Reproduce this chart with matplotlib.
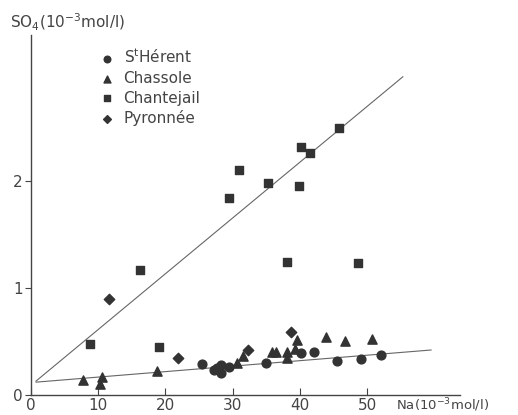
import matplotlib
matplotlib.use("Agg")
import matplotlib.pyplot as plt
import numpy as np

# Na (10^-3 mol/l) vs SO4 (10^-3 mol/l)
herent_na = [25.4, 27.2, 27.7, 28.2, 28.3, 29.4, 35.0, 40.1, 42.1, 45.5, 49.1, 52.1]
herent_so4 = [0.29, 0.23, 0.25, 0.28, 0.21, 0.26, 0.30, 0.39, 0.40, 0.32, 0.34, 0.37]

chassole_na = [7.7, 10.5, 10.2, 18.8, 30.7, 31.5, 35.9, 36.5, 38.0, 38.1, 39.3, 39.6, 43.8, 46.7, 50.7]
chassole_so4 = [0.14, 0.17, 0.10, 0.22, 0.30, 0.36, 0.40, 0.40, 0.40, 0.35, 0.43, 0.51, 0.54, 0.50, 0.52]

chantejail_na = [8.75, 16.2, 19.0, 29.4, 31.0, 35.2, 38.0, 39.9, 40.2, 41.5, 45.8, 48.7]
chantejail_so4 = [0.48, 1.17, 0.45, 1.84, 2.10, 1.98, 1.24, 1.95, 2.31, 2.26, 2.49, 1.23]

pyronnee_na = [11.6, 21.8, 32.3, 38.7]
pyronnee_so4 = [0.90, 0.35, 0.42, 0.59]

# the two fitted lines (end points)
upper_x = [0.75, 55.3]
upper_y = [0.13, 2.97]
lower_x = [0.75, 59.5]
lower_y = [0.12, 0.42]

xticks = [0, 10, 20, 30, 40, 50]
yticks = [0, 1, 2]

dark = '#333333'

fig = plt.figure(figsize=(5.18, 4.15), dpi=100)
ax = fig.add_axes([31/518, 20/415, 429/518, 360/415])

ax.plot(upper_x, upper_y, color='#666666', lw=0.8)
ax.plot(lower_x, lower_y, color='#666666', lw=0.8)

ax.scatter(herent_na, herent_so4, marker='o', s=40, color=dark, label='S$^{\\mathrm{t}}$Hérent', zorder=3)
ax.scatter(chassole_na, chassole_so4, marker='^', s=44, color=dark, label='Chassole', zorder=3)
ax.scatter(chantejail_na, chantejail_so4, marker='s', s=34, color=dark, label='Chantejail', zorder=3)
ax.scatter(pyronnee_na, pyronnee_so4, marker='D', s=28, color=dark, label='Pyronnée', zorder=3)

ax.set_xlim(0, 63.8)
ax.set_ylim(0, 3.36)
ax.spines['top'].set_visible(False)
ax.spines['right'].set_visible(False)
for s in ['left', 'bottom']:
    ax.spines[s].set_color('#444444')
    ax.spines[s].set_linewidth(1.0)

ax.set_xticks(xticks)
ax.set_yticks(yticks)
ax.tick_params(axis='x', direction='in', length=5, pad=2, labelsize=11, colors='#444444')
ax.tick_params(axis='y', direction='out', length=4, pad=2, labelsize=11, colors='#444444')

fig.text(10/518, 1 - 22/415, 'SO$_4$(10$^{-3}$mol/l)', fontsize=11, color='#444444', va='center')
fig.text(396/518, 1/415, 'Na(10$^{-3}$mol/l)', fontsize=9.5, color='#444444', va='bottom')

leg = ax.legend(loc='upper left', bbox_to_anchor=(90/518, 1 - 40/415), bbox_transform=fig.transFigure,
                frameon=False, fontsize=11, handletextpad=0.5, labelspacing=0.3,
                borderpad=0, handlelength=1.2, scatterpoints=1, markerscale=0.75)
for t in leg.get_texts():
    t.set_color('#444444')

fig.savefig('out.png', dpi=100)
